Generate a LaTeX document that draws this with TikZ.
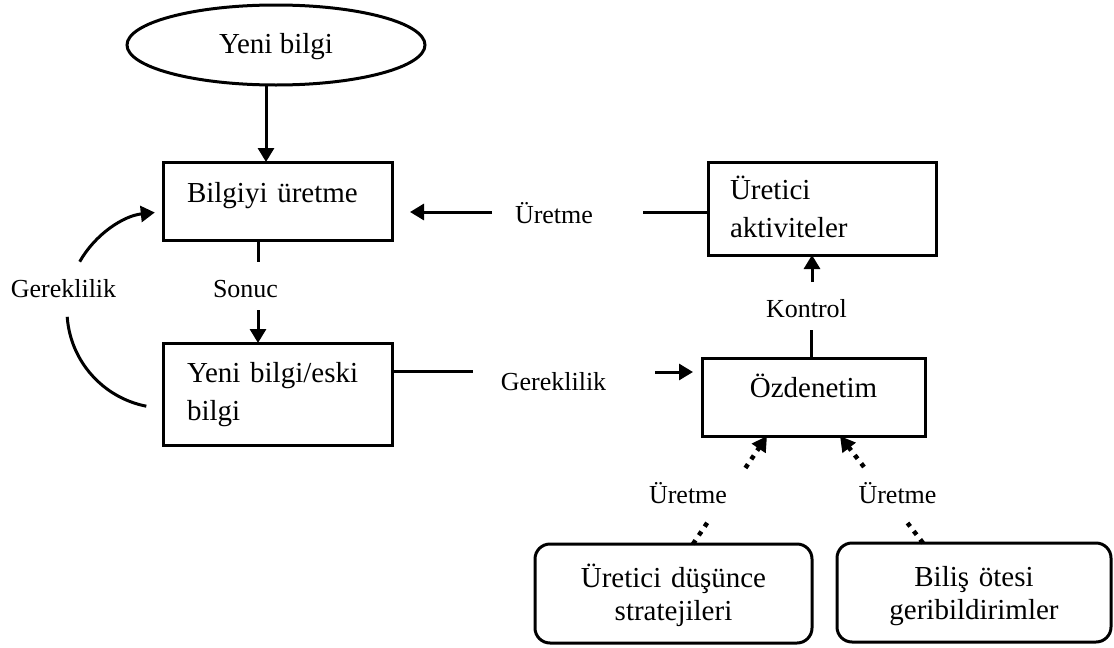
\documentclass[tikz,border=0pt]{standalone}
\usepackage{fontspec}
\setmainfont{Liberation Serif}
\usetikzlibrary{arrows.meta,shapes.geometric}
\newcommand\boxfont{\fontsize{29}{38}\selectfont}
\newcommand\lowboxfont{\fontsize{29}{33}\selectfont}
\newcommand\labfont{\fontsize{26}{30}\selectfont}

\begin{document}
\begin{tikzpicture}[x=1pt,y=-1pt,
  box/.style={draw, line width=3pt, rectangle, inner ysep=0pt, outer sep=0pt,
    font=\boxfont, anchor=base west},
  softbox/.style={box, rounded corners=15pt, font=\lowboxfont, align=center},
  lab/.style={font=\labfont, anchor=base, inner sep=0pt},
  link/.style={line width=3pt},
  arr/.style={line width=3pt, -{Triangle[width=16pt,length=14pt]}},
  dotlink/.style={line width=4.5pt, dash pattern=on 4.5pt off 6pt},
  dotarr/.style={dotlink, -{Triangle[width=16pt,length=15pt]}}
]
\useasboundingbox (0,0) rectangle (1114,648);

% start
\node[draw, ellipse, line width=3pt, inner sep=0pt, outer sep=0pt,
  minimum width=298pt, minimum height=80pt, font=\boxfont,
  text height=20pt, text depth=4pt] (e) at (276,45) {Yeni bilgi};

% left column
\node[box, text width=181pt, inner xsep=24pt, text height=40pt, text depth=38pt,
  align=left] (b1) at (163,202) {Bilgiyi üretme};
\node[box, text width=181pt, inner xsep=24pt, text height=39pt, text depth=63pt,
  align=left] (b2) at (163,382) {Yeni bilgi/eski\\bilgi};

% right column
\node[box, text width=184pt, inner xsep=22pt, text height=37pt, text depth=56pt,
  align=left] (ua) at (708,199) {Üretici\\aktiviteler};
\node[box, text width=203pt, inner xsep=10pt, text height=39pt, text depth=39pt,
  align=center] (oz) at (702,397) {Özdenetim};

% bottom row
\node[softbox, text width=257pt, inner xsep=10pt, text height=43pt, text depth=56pt]
  (bl) at (535,587) {Üretici düşünce\\stratejileri};
\node[softbox, text width=254pt, inner xsep=10pt, text height=43pt, text depth=56pt]
  (br) at (837,586) {Biliş ötesi\\geribildirimler};

% labels
\node[lab] (lg) at (63.5,297) {Gereklilik};
\node[lab] (ls) at (245.5,297) {Sonuc};
\node[lab] (lu) at (554,223) {Üretme};
\node[lab] (lm) at (553.5,390) {Gereklilik};
\node[lab] (lk) at (806.5,317) {Kontrol};
\node[lab] (lbl) at (688,503) {Üretme};
\node[lab] (lbr) at (897.5,503) {Üretme};

% free ends of the broken connectors
\coordinate (s1) at (258,262);
\coordinate (s2) at (258,310);
\coordinate (u1) at (643,212);
\coordinate (u2) at (492,212);
\coordinate (m1) at (473,371);
\coordinate (m2) at (655,372);
\coordinate (k1) at (811,330);
\coordinate (k2) at (812,282);
\coordinate (dl1) at (708.4,521);
\coordinate (dl2) at (745.4,468);
\coordinate (dr1) at (907.5,523);
\coordinate (dr2) at (864,467);
\coordinate (g0) at (146.3,406.2);
\coordinate (g1) at (67.2,316.8);
\coordinate (g2) at (79.7,261.7);
\coordinate (g3) at (154.8,212.5);

% connectors
\draw[arr] ([xshift=-10pt]e.south) -- ([xshift=-10pt]e.south |- b1.north);
\draw[link] (b1.south -| s1) -- (s1);
\draw[arr] (s2) -- (s2 |- b2.north);
\draw[link] (ua.west |- u1) -- (u1);
\draw[arr] (u2) -- ([xshift=18pt]b1.east |- u2);
\draw[link] (b2.east |- m1) -- (m1);
\draw[arr] (m2) -- ([xshift=-9pt]oz.west |- m2);
\draw[link] (oz.north -| k1) -- (k1);
\draw[arr] (k2) -- (ua.south -| k2);

% loop on the left
\draw[link] (g0) .. controls (102.8,397.7) and (70.3,361.0) .. (g1);
\draw[arr] (g2) .. controls (95.2,234.2) and (123.4,215.8) .. (g3);

% dotted feeds into Özdenetim
\draw[dotlink] ([xshift=19.5pt]bl.north) -- (dl1);
\draw[dotarr] (dl2) -- ([xshift=-46.5pt]oz.south);
\draw[dotlink] ([xshift=-51pt]br.north) -- (dr1);
\draw[dotarr] (dr2) -- ([xshift=26.5pt]oz.south);
\end{tikzpicture}
\end{document}
